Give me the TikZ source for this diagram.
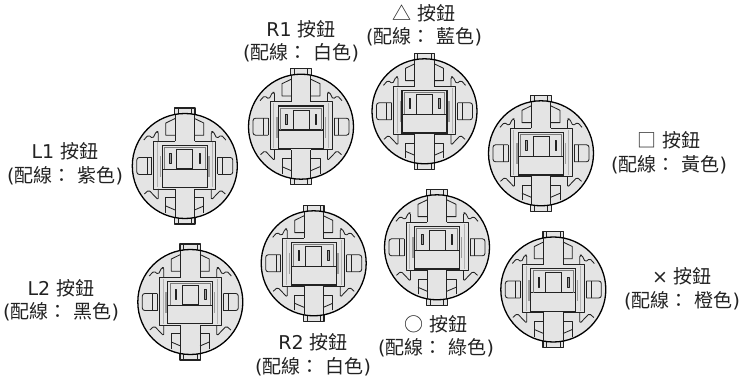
\documentclass[tikz,border=0pt]{standalone}
\usepackage{fontspec}
\setmainfont{DejaVu Sans}
\newfontfamily\cjk{Noto Sans CJK TC}
\definecolor{plate}{HTML}{E4E4E4}
\definecolor{ink}{HTML}{222222}
\newcommand{\btnlabel}[2]{#1 {\cjk 按鈕}\\({\cjk 配線：} {\cjk #2})}
\tikzset{lab/.style={align=center, text=ink, font=\fontsize{19}{23.5}\selectfont, inner sep=0pt}}
\tikzset{fine/.style={draw=ink, line width=0.85pt, line join=round}}
\tikzset{pale/.style={draw=ink!35, line width=0.6pt}}
\tikzset{arcade/.pic={
  \draw[fine, line width=1.3pt, fill=plate] (-10.3,-49) -- (-10.3,-58) -- (10.3,-58) -- (10.3,-49);
  \draw[fine] (-6.7,-58) -- (-6.7,-51) (6.7,-58) -- (6.7,-51);
  \draw[fine, line width=1.3pt, fill=plate] (-10.3,49) -- (-10.3,58) -- (10.3,58) -- (10.3,49);
  \draw[fine] (-6.7,58) -- (-6.7,51) (6.7,58) -- (6.7,51);
  \draw[draw=black, line width=1.3pt, fill=plate] (0,0) circle (52.5);
  \foreach \s in {1,-1} {
    \begin{scope}[xscale=\s]
    % slots
    \draw[fine] (-9.7,-51) -- (-9.7,-25);
    \draw[fine] (-9.7,-47.5) -- (-19,-43) -- (-19,-30.7) -- (-9.7,-30.7);
    \draw[fine] (-9.7,51) -- (-9.7,23);
    \draw[fine] (-19,47) -- (-19,31.7) -- (-9.7,31.7);
    \draw[fine] (-19,40) -- (-9.7,44);
    % hooks
    \draw[fine, rounded corners=1.6pt] (-41,-26) -- (-36.5,-31) -- (-32,-27.5) -- (-28.5,-34.5) -- (-26.5,-34.5) -- (-26.5,-25);
    \draw[fine, rounded corners=1.6pt] (-40.5,28) -- (-36,24) -- (-26.5,34) -- (-26.5,23);
    % plate
    \draw[fine] (-9.7,-25) -- (-31,-25) -- (-31,23) -- (-9.7,23);
    \draw[pale] (-27.3,-23.5) -- (-27.3,21.5);
    % side tabs
    \draw[fine, rounded corners=2.5pt] (-33,-8.5) -- (-48,-8.5) -- (-48,8.5) -- (-33,8.5);
    \draw[fine] (-33,-8.5) -- (-33,8.5) (-37.7,-8.5) -- (-37.7,8.5);
    \fill[ink!45] (-25,-10) rectangle (-23.5,11);
    % contact slots
    \draw[fine, line width=0.6pt, fill=ink!45] (-15.5,-12.7) rectangle (-14,-2.7);
    \end{scope}
  }
  \draw[draw=ink, line width=1.1pt] (-22.5,-20.7) rectangle (22.5,21.7);
  \draw[draw=ink, line width=1.1pt] (-22.5,3.3) -- (22.5,3.3);
  \draw[draw=ink!60, line width=0.9pt] (-20.2,3) -- (-20.2,-18.6) -- (20.2,-18.6) -- (20.2,3);
  \draw[draw=ink, line width=0.9pt] (-8,-16.7) rectangle (8,2.7);
}}

\begin{document}
\begin{tikzpicture}[x=1pt, y=-1pt]
\useasboundingbox (0,0) rectangle (741,379);

\pic at (184.8,166) {arcade};
\pic at (301,126.7) {arcade};
\pic at (424.5,111.3) {arcade};
\pic at (541,153.3) {arcade};
\pic at (190.3,302) {arcade};
\pic at (313.7,263.3) {arcade};
\pic at (437,247.3) {arcade};
\pic at (553.3,289.5) {arcade};

\node[lab] (l1) at (65,163.5) {\btnlabel{L1}{紫色}};
\node[lab] (r1) at (301,41) {\btnlabel{R1}{白色}};
\node[lab] (tri) at (424,25) {\btnlabel{{\cjk △}}{藍色}};
\node[lab] (sq) at (669,152.5) {\btnlabel{{\cjk □}}{黃色}};
\node[lab] (l2) at (61,300) {\btnlabel{L2}{黑色}};
\node[lab] (r2) at (313,354.5) {\btnlabel{R2}{白色}};
\node[lab] (ci) at (436,336) {\btnlabel{{\cjk ○}}{綠色}};
\node[lab] (x) at (682,288.5) {\btnlabel{×}{橙色}};
\end{tikzpicture}
\end{document}
